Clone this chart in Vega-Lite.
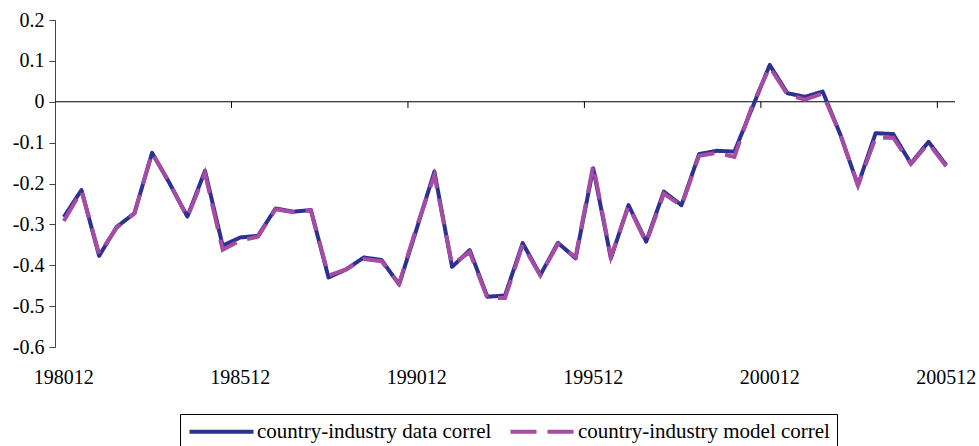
{
  "$schema": "https://vega.github.io/schema/vega-lite/v6.json",
  "autosize": {"type": "none"},
  "width": 900,
  "height": 327,
  "padding": {"left": 55, "top": 20, "right": 24, "bottom": 99},
  "background": "white",
  "config": {"view": {"stroke": null}, "font": "Liberation Serif"},
  "datasets": {
    "rows": [
      {"p":"198012","d":-0.282,"m":-0.292},
      {"p":"198106","d":-0.216,"m":-0.218},
      {"p":"198112","d":-0.377,"m":-0.372},
      {"p":"198206","d":-0.306,"m":-0.308},
      {"p":"198212","d":-0.273,"m":-0.273},
      {"p":"198306","d":-0.125,"m":-0.125},
      {"p":"198312","d":-0.200,"m":-0.200},
      {"p":"198406","d":-0.281,"m":-0.283},
      {"p":"198412","d":-0.169,"m":-0.175},
      {"p":"198506","d":-0.352,"m":-0.362},
      {"p":"198512","d":-0.332,"m":-0.340},
      {"p":"198606","d":-0.328,"m":-0.330},
      {"p":"198612","d":-0.261,"m":-0.263},
      {"p":"198706","d":-0.269,"m":-0.270},
      {"p":"198712","d":-0.265,"m":-0.266},
      {"p":"198806","d":-0.430,"m":-0.425},
      {"p":"198812","d":-0.410,"m":-0.410},
      {"p":"198906","d":-0.381,"m":-0.385},
      {"p":"198912","d":-0.387,"m":-0.390},
      {"p":"199006","d":-0.447,"m":-0.445},
      {"p":"199012","d":-0.310,"m":-0.305},
      {"p":"199106","d":-0.171,"m":-0.180},
      {"p":"199112","d":-0.404,"m":-0.398},
      {"p":"199206","d":-0.363,"m":-0.368},
      {"p":"199212","d":-0.477,"m":-0.480},
      {"p":"199306","d":-0.474,"m":-0.480},
      {"p":"199312","d":-0.346,"m":-0.350},
      {"p":"199406","d":-0.424,"m":-0.425},
      {"p":"199412","d":-0.345,"m":-0.348},
      {"p":"199506","d":-0.383,"m":-0.380},
      {"p":"199512","d":-0.163,"m":-0.155},
      {"p":"199606","d":-0.383,"m":-0.380},
      {"p":"199612","d":-0.253,"m":-0.255},
      {"p":"199706","d":-0.342,"m":-0.345},
      {"p":"199712","d":-0.220,"m":-0.225},
      {"p":"199806","d":-0.253,"m":-0.255},
      {"p":"199812","d":-0.128,"m":-0.132},
      {"p":"199906","d":-0.120,"m":-0.125},
      {"p":"199912","d":-0.122,"m":-0.135},
      {"p":"200006","d":-0.016,"m":-0.010},
      {"p":"200012","d":0.090,"m":0.085},
      {"p":"200106","d":0.021,"m":0.018},
      {"p":"200112","d":0.012,"m":0.005},
      {"p":"200206","d":0.025,"m":0.020},
      {"p":"200212","d":-0.080,"m":-0.080},
      {"p":"200306","d":-0.204,"m":-0.205},
      {"p":"200312","d":-0.077,"m":-0.088},
      {"p":"200406","d":-0.079,"m":-0.088},
      {"p":"200412","d":-0.151,"m":-0.152},
      {"p":"200506","d":-0.098,"m":-0.102},
      {"p":"200512","d":-0.155,"m":-0.158}
    ]
  },
  "data": {"name": "rows"},
  "layer": [
    {
      "data": {"values": [{"z": 0}]},
      "mark": {"type": "rule", "color": "black", "strokeWidth": 1.2},
      "encoding": {
        "y": {
          "field": "z", "type": "quantitative",
          "scale": {"domain": [-0.6, 0.2], "nice": false, "zero": false},
          "axis": {
            "title": null, "values": [-0.6,-0.5,-0.4,-0.3,-0.2,-0.1,0,0.1,0.2],
            "labelExpr": "replace(format(datum.value, '.1~f'), '\u2212', '-')",
            "grid": false, "domainColor": "#444", "tickColor": "#444", "tickSize": 6,
            "labelPadding": 5, "labelFont": "Liberation Serif", "labelFontSize": 20, "labelColor": "black"
          }
        }
      }
    },
    {
      "transform": [
        {"fold": ["d"], "as": ["k", "value"]},
        {"calculate": "'country-industry data correl'", "as": "series"}
      ],
      "mark": {"type": "line", "strokeWidth": 4, "strokeJoin": "round"},
      "encoding": {
        "x": {
          "field": "p", "type": "ordinal", "sort": null, "bandPosition": 0.5,
          "scale": {
            "type": "band", "paddingInner": 0, "paddingOuter": 0,
            "domain": ["198012","198106","198112","198206","198212","198306","198312","198406","198412","198506","198512","198606","198612","198706","198712","198806","198812","198906","198912","199006","199012","199106","199112","199206","199212","199306","199312","199406","199412","199506","199512","199606","199612","199706","199712","199806","199812","199906","199912","200006","200012","200106","200112","200206","200212","200306","200312","200406","200412","200506","200512"]
          },
          "axis": {
            "title": null,
            "labelExpr": "indexof(['198012','198512','199012','199512','200012','200512'], datum.label) >= 0 ? datum.label : ''",
            "labelAngle": 0, "domain": false, "ticks": false, "labelPadding": 20,
            "labelOverlap": false, "labelFlush": false, "labelBound": false,
            "labelFont": "Liberation Serif", "labelFontSize": 20, "labelColor": "black", "grid": false
          }
        },
        "y": {"field": "value", "type": "quantitative"},
        "color": {
          "field": "series", "type": "nominal",
          "scale": {"domain": ["country-industry data correl","country-industry model correl"], "range": ["#2D3192","#A64CA3"]},
          "legend": {
            "title": null, "orient": "none", "legendX": 125, "legendY": 394, "direction": "horizontal",
            "strokeColor": "black", "padding": 7, "symbolType": "M-1,0H7", "symbolSize": 256,
            "symbolStrokeWidth": 4, "labelFont": "Liberation Serif", "labelFontSize": 21, "labelColor": "black",
            "labelLimit": 400, "columnPadding": 10, "labelOffset": 49
          }
        },
        "strokeDash": {
          "field": "series", "type": "nominal",
          "scale": {"domain": ["country-industry data correl","country-industry model correl"], "range": [[1,0],[26,11]]},
          "legend": {
            "title": null, "orient": "none", "legendX": 125, "legendY": 394, "direction": "horizontal",
            "strokeColor": "black", "padding": 7, "symbolType": "M-1,0H7", "symbolSize": 256,
            "symbolStrokeWidth": 4, "labelFont": "Liberation Serif", "labelFontSize": 21, "labelColor": "black",
            "labelLimit": 400, "columnPadding": 10, "labelOffset": 49
          }
        }
      }
    },
    {
      "transform": [
        {"fold": ["m"], "as": ["k", "value"]},
        {"calculate": "'country-industry model correl'", "as": "series"}
      ],
      "mark": {"type": "line", "strokeWidth": 4},
      "encoding": {
        "x": {"field": "p", "type": "ordinal", "sort": null, "bandPosition": 0.5},
        "y": {"field": "value", "type": "quantitative"},
        "color": {"field": "series", "type": "nominal"},
        "strokeDash": {"field": "series", "type": "nominal"}
      }
    },
    {
      "transform": [{"filter": {"field": "p", "oneOf": ["198512","199012","199512","200012","200512"]}}],
      "mark": {"type": "rule", "color": "black", "strokeWidth": 1},
      "encoding": {
        "x": {"field": "p", "type": "ordinal", "sort": null, "bandPosition": 0},
        "y": {"datum": 0},
        "y2": {"datum": -0.015}
      }
    }
  ]
}
